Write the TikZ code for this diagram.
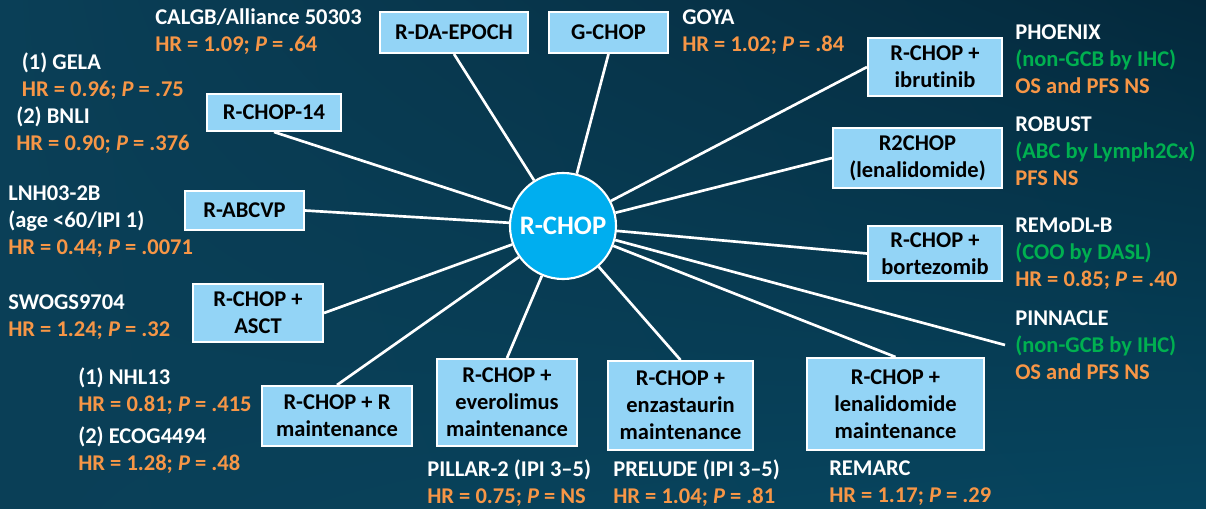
\documentclass[tikz,border=0pt]{standalone}
\usepackage{fontspec}
\setmainfont{Carlito}[Ligatures=NoCommon]
\usepackage{xcolor}
\usetikzlibrary{positioning,shadings}

\definecolor{bgleft}{HTML}{0A3F57}
\definecolor{bglowr}{HTML}{06455F}
\definecolor{bgdark}{HTML}{04293C}
\definecolor{armblue}{HTML}{93D4F6}
\definecolor{hubblue}{HTML}{00AEEF}
\definecolor{hrorange}{HTML}{F79646}
\definecolor{coogreen}{HTML}{00B050}

\newcommand{\labfont}{\bfseries\fontsize{16}{19.2}\selectfont}
\newcommand{\hubfont}{\bfseries\fontsize{19}{23}\selectfont}
\newcommand{\hrval}[2]{\textcolor{hrorange}{HR = #1; {\itshape P} = #2}}
\newcommand{\cohort}[1]{\textcolor{coogreen}{#1}}

\begin{document}
\begin{tikzpicture}[x=0.025cm, y=-0.025cm,
    arm/.style={rectangle, draw=white, line width=1.4pt, fill=armblue, text=black, align=center, inner sep=2pt, font=\labfont},
    trial/.style={anchor=west, align=left, inner sep=0pt, text=white, font=\labfont},
    hub/.style={circle, draw=white, line width=1.5pt, fill=hubblue, text=white, minimum size=2.65cm, inner sep=0pt, font=\hubfont},
    every edge/.style={draw=white, line width=1.9pt}]

    \useasboundingbox (0,0) rectangle (1206,508);
    \shade[upper left=bgleft, lower left=bgleft, lower right=bglowr, upper right=bgdark] (0,0) rectangle (1206,508);

    % Arms
    \node[arm, minimum width=3.7cm, minimum height=1.025cm] (epoch) at (454,32.5) {R-DA-EPOCH};
    \node[arm, minimum width=2.975cm, minimum height=1.025cm] (gchop) at (608.5,32.5) {G-CHOP};
    \node[arm, minimum width=3.35cm, minimum height=1.45cm] (ibru) at (935,67) {R-CHOP +\\ibrutinib};
    \node[arm, minimum width=4.225cm, minimum height=1.5cm] (r2chop) at (917.5,158) {R2CHOP\\(lenalidomide)};
    \node[arm, minimum width=3.35cm, minimum height=1.375cm] (bortez) at (935,253.5) {R-CHOP +\\bortezomib};
    \node[arm, minimum width=4.4cm, minimum height=2.3cm] (lenmaint) at (895.5,404) {R-CHOP +\\lenalidomide\\maintenance};
    \node[arm, minimum width=3.625cm, minimum height=2.225cm] (enza) at (680.5,405.5) {R-CHOP +\\enzastaurin\\maintenance};
    \node[arm, minimum width=3.5cm, minimum height=2.175cm] (evero) at (507,402.5) {R-CHOP +\\everolimus\\maintenance};
    \node[arm, minimum width=3.75cm, minimum height=1.5cm] (rmaint) at (337,416) {R-CHOP + R\\maintenance};
    \node[arm, minimum width=3.25cm, minimum height=1.45cm] (asct) at (258,313) {R-CHOP +\\ASCT};
    \node[arm, minimum width=2.975cm, minimum height=0.975cm] (abcvp) at (244.5,210.5) {R-ABCVP};
    \node[arm, minimum width=3.35cm, minimum height=0.925cm] (r14) at (274,112.5) {R-CHOP-14};

    % Hub
    \node[hub] (rchop) at (563,226) {R-CHOP};
    \coordinate (pinend) at (1005,345);

    % Spokes
    \path (epoch.south) edge (rchop)
          (gchop.south) edge (rchop)
          (ibru.west) edge (rchop)
          (r2chop.west) edge (rchop)
          (bortez.west) edge (rchop)
          (pinend) edge (rchop)
          (lenmaint.north) edge (rchop)
          (enza.north) edge (rchop)
          (evero.north) edge (rchop)
          (rmaint.north) edge (rchop)
          (asct.east) edge (rchop)
          (abcvp.east) edge (rchop)
          (r14.south) edge (rchop);

    % Trials
    \node[trial] (calgb) at (155,31.5) {CALGB/Alliance 50303\\\hrval{1.09}{.64}};
    \node[trial] (gela) at (16,103) {\hspace*{4pt}(1) GELA\\\hspace*{4pt}\hrval{0.96}{.75}\\(2) BNLI\\\hrval{0.90}{.376}};
    \node[trial] (lnh) at (8,221.5) {LNH03-2B\\(age <60/IPI 1)\\\hrval{0.44}{.0071}};
    \node[trial] (swog) at (8,317) {SWOGS9704\\\hrval{1.24}{.32}};
    \node[trial] (nhl) at (78,420.5) {(1) NHL13\\\hrval{0.81}{.415}\\[3.6pt](2) ECOG4494\\\hrval{1.28}{.48}};
    \node[trial] (pillar) at (427,483.5) {PILLAR-2 (IPI 3–5)\\\hrval{0.75}{NS}};
    \node[trial] (prelude) at (613,483.5) {PRELUDE (IPI 3–5)\\\hrval{1.04}{.81}};
    \node[trial] (remarc) at (829,483.5) {REMARC\\\hrval{1.17}{.29}};
    \node[trial] (goya) at (682,32.5) {GOYA\\\hrval{1.02}{.84}};
    \node[trial] (phoenix) at (1015,59) {PHOENIX\\\cohort{(non-GCB by IHC)}\\\textcolor{hrorange}{OS and PFS NS}};
    \node[trial] (robust) at (1015,151.5) {ROBUST\\\cohort{(ABC by Lymph2Cx)}\\\textcolor{hrorange}{PFS NS}};
    \node[trial] (remodl) at (1015,254) {REMoDL-B\\\cohort{(COO by DASL)}\\\hrval{0.85}{.40}};
    \node[trial] (pinnacle) at (1015,345) {PINNACLE\\\cohort{(non-GCB by IHC)}\\\textcolor{hrorange}{OS and PFS NS}};

\end{tikzpicture}
\end{document}
